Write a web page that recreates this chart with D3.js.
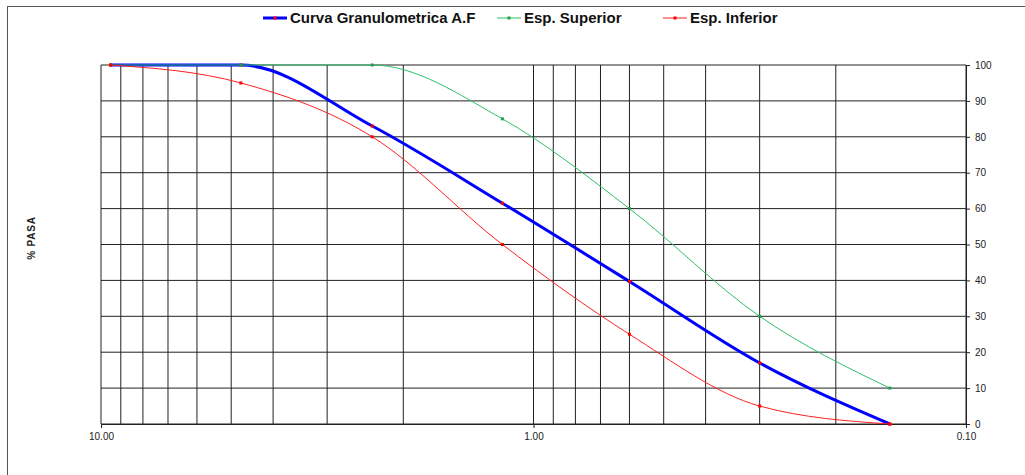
<!DOCTYPE html>
<html>
<head>
<meta charset="utf-8">
<script src="https://cdn.jsdelivr.net/npm/d3@7"></script>
<style>
  body { margin: 0; background: #fff; }
  svg { display: block; font-family: "Liberation Sans", Arial, sans-serif; }
</style>
</head>
<body>
<script>
    var w = 1025;
    var h = 475;

    // sieve openings (mm) and % passing
    var sizes    = [9.5, 4.75, 2.36, 1.18, 0.6, 0.3, 0.15];
    var curvaAF  = [100, 100, 83, 61.5, 39.7, 17, 0];
    var espSup   = [100, 100, 100, 85, 60, 30, 10];
    var espInf   = [100, 95, 80, 50, 25, 5, 0];
    var xTicks   = [10, 1, 0.1];
    var yTicks   = [0, 10, 20, 30, 40, 50, 60, 70, 80, 90, 100];

    var series = [
        { name: "Curva Granulometrica A.F", values: curvaAF, color: "#0000ff", width: 3, marker: "#ff0000" },
        { name: "Esp. Superior", values: espSup, color: "#2fbf6a", width: 1, marker: "#1f9f50" },
        { name: "Esp. Inferior", values: espInf, color: "#ff2020", width: 1, marker: "#ff0000" }
    ];

    var svg = d3.select("body")
                .append("svg")
                .attr("width", w)
                .attr("height", h);

    // outer chart border (runs off right/bottom)
    svg.append("rect")
       .attr("x", 7.5).attr("y", 6.5)
       .attr("width", w + 10).attr("height", h + 10)
       .attr("fill", "none")
       .attr("stroke", "#555")
       .attr("stroke-width", 1);

    var x = d3.scaleLog().domain([10, 0.1]).range([101, 966]);
    var y = d3.scaleLinear().domain([0, 100]).range([424, 65]);

    // vertical log gridlines
    var vGrid = [];
    [0.1, 1, 10].forEach(function(dec) {
        for (var k = 1; k <= 9; k++) {
            var v = +(dec * k).toFixed(2);
            if (v <= 10 && v >= 0.1) vGrid.push(v);
        }
    });

    svg.append("g")
       .selectAll("line")
       .data(vGrid)
       .enter()
       .append("line")
       .attr("x1", d => x(d)).attr("x2", d => x(d))
       .attr("y1", y(0)).attr("y2", y(100))
       .attr("stroke", "#222")
       .attr("stroke-width", 1);

    svg.append("g")
       .selectAll("line")
       .data(yTicks)
       .enter()
       .append("line")
       .attr("x1", x(10)).attr("x2", x(0.1))
       .attr("y1", d => y(d)).attr("y2", d => y(d))
       .attr("stroke", "#222")
       .attr("stroke-width", 1);

    // axes
    var xAxis = svg.append("g")
       .attr("transform", "translate(0," + y(0) + ")")
       .call(d3.axisBottom(x).tickValues(xTicks).tickFormat(d3.format(".2f")).tickSize(4).tickSizeOuter(0));

    var yAxis = svg.append("g")
       .attr("transform", "translate(" + x(0.1) + ",0)")
       .call(d3.axisRight(y).tickValues(yTicks).tickSize(4).tickSizeOuter(0));

    [xAxis, yAxis].forEach(function(a) {
        a.select(".domain").attr("stroke", "#222");
        a.selectAll(".tick line").attr("stroke", "#222");
        a.selectAll("text").attr("fill", "#222").style("font-size", "10px");
    });
    xAxis.selectAll("text").attr("dy", "0.85em");
    yAxis.selectAll("text").attr("x", 9);

    // y label on the left
    svg.append("text")
       .attr("transform", "translate(35,238) rotate(-90)")
       .attr("text-anchor", "middle")
       .style("font-size", "10px")
       .style("font-weight", "bold")
       .style("letter-spacing", "0.8px")
       .attr("fill", "#222")
       .text("% PASA");

    var line = d3.line()
                 .x(d => x(d.s))
                 .y(d => y(d.v))
                 .curve(d3.curveMonotoneX);

    series.forEach(function(sr) {
        var pts = sizes.map((s, i) => ({ s: s, v: sr.values[i] }));
        svg.append("path")
           .datum(pts)
           .attr("d", line)
           .attr("fill", "none")
           .attr("stroke", sr.color)
           .attr("stroke-width", sr.width);
    });

    series.forEach(function(sr) {
        var pts = sizes.map((s, i) => ({ s: s, v: sr.values[i] }));
        svg.append("g")
           .selectAll("rect")
           .data(pts)
           .enter()
           .append("rect")
           .attr("x", d => x(d.s) - 1.5)
           .attr("y", d => y(d.v) - 1.5)
           .attr("width", 3).attr("height", 3)
           .attr("fill", sr.marker);
    });

    // legend
    var legendX = [263, 497, 663];
    series.forEach(function(sr, i) {
        var g = svg.append("g").attr("transform", "translate(" + legendX[i] + ",18)");
        g.append("line")
         .attr("x1", 0).attr("x2", 24)
         .attr("stroke", sr.color)
         .attr("stroke-width", sr.width);
        g.append("rect")
         .attr("x", 10.5).attr("y", -1.5)
         .attr("width", 3).attr("height", 3)
         .attr("fill", sr.marker);
        g.append("text")
         .attr("x", 27).attr("y", 5)
         .style("font-size", "15px")
         .style("font-weight", "bold")
         .attr("fill", "#111")
         .text(sr.name);
    });
</script>
</body>
</html>
